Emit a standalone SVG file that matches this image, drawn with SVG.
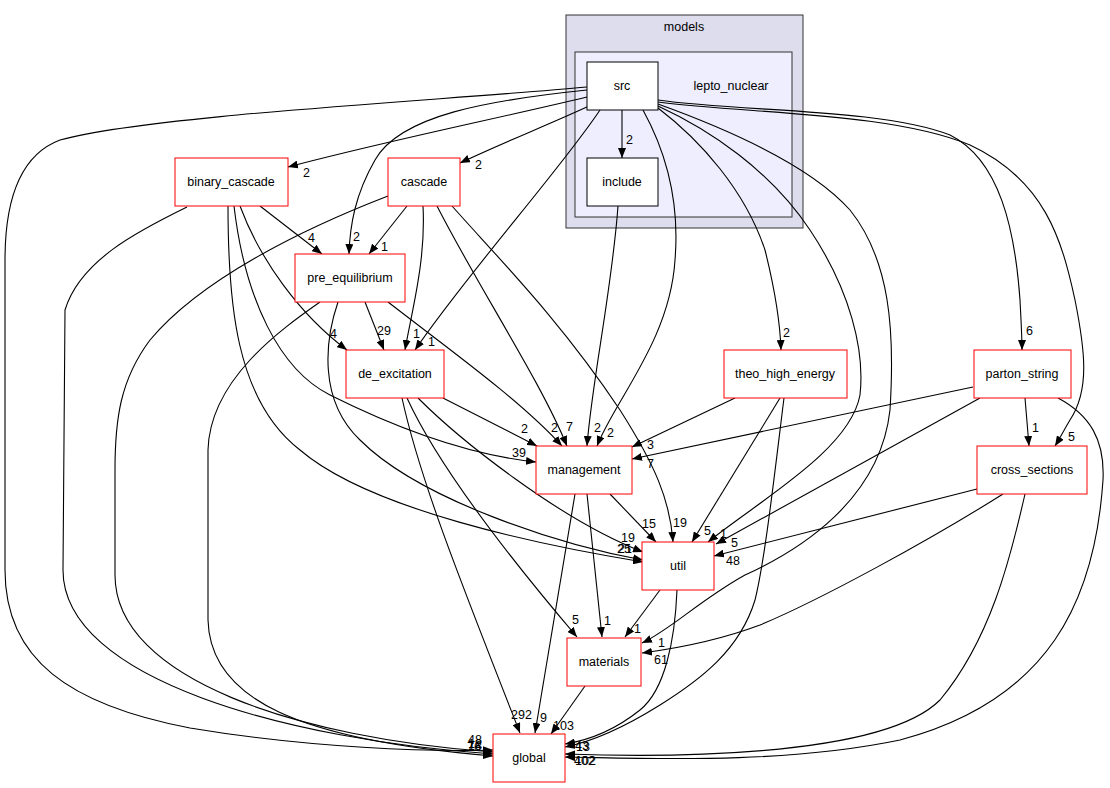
<svg xmlns="http://www.w3.org/2000/svg" width="1110" height="788" viewBox="0 0 1110 788">
<style>
text{font-family:"Liberation Sans",Arial,sans-serif;font-size:12.5px;fill:#000}
.n{text-anchor:middle}
.r{fill:#fff;stroke:#ff0000;stroke-width:1}
.b{fill:#fff;stroke:#000;stroke-width:1}
.e{fill:none;stroke:#000;stroke-width:1.1;marker-end:url(#a)}
</style>
<defs>
<marker id="a" markerWidth="10" markerHeight="8" refX="10" refY="4" orient="auto" markerUnits="userSpaceOnUse"><path d="M0,0 L10,4 L0,8 z" fill="#000"/></marker>
</defs>
<rect width="1110" height="788" fill="#fff"/>
<g id="cluster_models">
<rect x="566" y="15" width="237" height="213" fill="#ddddee" stroke="#333"/>
<text class="n" x="684" y="31">models</text>
</g>
<g id="cluster_lepto_nuclear">
<rect x="575" y="52" width="217" height="165" fill="#eeeeff" stroke="#333"/>
<text class="n" x="731" y="90">lepto_nuclear</text>
</g>
<g id="edges">
<path class="e" d="M622,110 L622,158"/>
<text x="626" y="144">2</text>
<path class="e" d="M587,97 C500,118 390,140 288,167"/>
<text x="303" y="177">2</text>
<path class="e" d="M589,106 C550,124 500,144 460,163"/>
<text x="475" y="169">2</text>
<path class="e" d="M587,90 C490,100 400,115 375,160 C355,195 350,225 349,254"/>
<text x="353" y="241">2</text>
<path class="e" d="M587,87 C450,100 150,115 60,140 C20,155 5,200 5,260 L5,570 C5,660 70,705 190,728 C310,748 430,752 493,750"/>
<path class="e" d="M600,110 C560,170 470,270 415,350"/>
<text x="428" y="346">1</text>
<path class="e" d="M643,110 C665,150 680,200 675,260 C670,340 615,400 597,446"/>
<text x="607" y="437">2</text>
<path class="e" d="M658,108 C700,140 745,190 765,250 C775,290 780,320 781,350"/>
<text x="783" y="337">2</text>
<path class="e" d="M658,100 C740,112 880,108 950,135 C1000,160 1015,230 1020,300 C1021,320 1022,335 1022,350"/>
<text x="1026" y="335">6</text>
<path class="e" d="M658,102 C750,114 890,112 970,145 C1045,180 1062,240 1075,300 C1085,350 1090,390 1070,420 C1064,430 1060,438 1055,446"/>
<text x="1068" y="441">5</text>
<path class="e" d="M658,106 C710,130 770,170 810,230 C850,290 865,350 860,395 C850,450 760,500 708,542"/>
<text x="720" y="538">1</text>
<path class="e" d="M658,104 C730,130 810,165 850,210 C890,260 895,330 890,410 C880,500 800,550 745,575 C700,600 670,630 642,643"/>
<text x="658" y="647">1</text>
<path class="e" d="M618,206 C612,290 592,380 587,446"/>
<text x="594" y="432">2</text>
<path class="e" d="M260,206 L322,254"/>
<text x="308" y="242">4</text>
<path class="e" d="M240,206 C260,260 300,315 347,350"/>
<text x="330" y="338">4</text>
<path class="e" d="M234,206 C245,300 280,370 330,395 C400,430 470,455 536,462"/>
<text x="512" y="457">39</text>
<path class="e" d="M228,206 C228,300 235,400 300,450 C370,510 540,545 643,562"/>
<text x="617" y="553">25</text>
<path class="e" d="M187,207 C140,230 80,260 65,310 L63,570 C63,680 290,740 493,754"/>
<path class="e" d="M407,206 L369,254"/>
<text x="381" y="251">1</text>
<path class="e" d="M423,206 C426,260 412,310 405,350"/>
<text x="413" y="338">1</text>
<path class="e" d="M437,206 C480,290 540,380 567,446"/>
<text x="566" y="431">7</text>
<path class="e" d="M452,206 C500,260 560,320 620,410 C655,465 670,500 673,542"/>
<text x="673" y="527">19</text>
<path class="e" d="M388,196 C300,230 200,280 150,340 C120,380 115,420 115,470 L115,575 C115,680 300,738 493,752"/>
<path class="e" d="M365,302 L384,350"/>
<text x="377" y="335">29</text>
<path class="e" d="M388,302 C450,350 520,400 562,446"/>
<text x="551" y="432">2</text>
<path class="e" d="M338,302 C325,340 318,400 360,440 C420,500 560,545 643,560"/>
<text x="618" y="553">21</text>
<path class="e" d="M320,302 C280,330 210,380 208,450 L208,620 C210,700 300,740 493,756"/>
<path class="e" d="M443,398 L537,446"/>
<text x="521" y="433">2</text>
<path class="e" d="M418,398 C460,440 560,520 643,552"/>
<text x="621" y="542">19</text>
<path class="e" d="M407,398 C440,470 520,570 577,637"/>
<text x="572" y="624">5</text>
<path class="e" d="M402,398 C420,480 460,580 520,733"/>
<text x="511" y="719">292</text>
<path class="e" d="M735,398 L632,447"/>
<text x="647" y="449">3</text>
<path class="e" d="M780,398 L692,542"/>
<text x="704" y="535">5</text>
<path class="e" d="M784,398 C775,470 765,560 755,600 C740,650 700,680 660,705 C620,730 590,742 565,747"/>
<path class="e" d="M973,387 L632,459"/>
<text x="647" y="468">7</text>
<path class="e" d="M980,398 L716,544"/>
<text x="731" y="547">5</text>
<path class="e" d="M1025,398 L1029,446"/>
<text x="1032" y="432">1</text>
<path class="e" d="M1058,398 C1090,415 1105,440 1103,480 C1095,600 1050,700 900,740 C780,765 640,758 565,757"/>
<path class="e" d="M977,489 L714,556"/>
<text x="726" y="565">48</text>
<path class="e" d="M1003,494 C930,540 820,600 760,625 C720,640 680,648 642,653"/>
<text x="654" y="664">61</text>
<path class="e" d="M1025,494 C1010,560 990,640 940,700 C880,760 650,757 565,754"/>
<path class="e" d="M610,494 L656,542"/>
<text x="642" y="528">15</text>
<path class="e" d="M587,494 L602,637"/>
<text x="604" y="625">1</text>
<path class="e" d="M575,494 L535,733"/>
<text x="540" y="722">9</text>
<path class="e" d="M660,590 L625,637"/>
<text x="634" y="633">1</text>
<path class="e" d="M677,590 C675,640 665,690 640,710 C615,730 590,740 565,744"/>
<path class="e" d="M585,686 L551,734"/>
<text x="553" y="730">103</text>
<text x="468" y="744">48</text>
<text x="468" y="748">12</text>
<text x="467" y="751">76</text>
<text x="468" y="750">18</text>
<text x="575" y="750">43</text>
<text x="576" y="751">13</text>
<text x="574" y="765">402</text>
<text x="575" y="765">102</text>
</g>
<g id="node_src"><rect class="b" x="587" y="62" width="71" height="48"/><text class="n" x="622" y="90">src</text></g>
<g id="node_include"><rect class="b" x="587" y="158" width="71" height="48"/><text class="n" x="622" y="186">include</text></g>
<g id="node_binary_cascade"><rect class="r" x="175" y="158" width="113" height="48"/><text class="n" x="231" y="186">binary_cascade</text></g>
<g id="node_cascade"><rect class="r" x="388" y="158" width="72" height="48"/><text class="n" x="424" y="186">cascade</text></g>
<g id="node_pre_equilibrium"><rect class="r" x="295" y="254" width="110" height="48"/><text class="n" x="350" y="282">pre_equilibrium</text></g>
<g id="node_de_excitation"><rect class="r" x="346" y="350" width="98" height="48"/><text class="n" x="395" y="378">de_excitation</text></g>
<g id="node_theo_high_energy"><rect class="r" x="724" y="350" width="123" height="48"/><text class="n" x="785" y="378">theo_high_energy</text></g>
<g id="node_parton_string"><rect class="r" x="974" y="350" width="97" height="48"/><text class="n" x="1022" y="378">parton_string</text></g>
<g id="node_management"><rect class="r" x="536" y="446" width="96" height="48"/><text class="n" x="584" y="474">management</text></g>
<g id="node_cross_sections"><rect class="r" x="977" y="446" width="110" height="48"/><text class="n" x="1032" y="474">cross_sections</text></g>
<g id="node_util"><rect class="r" x="642" y="542" width="72" height="48"/><text class="n" x="678" y="570">util</text></g>
<g id="node_materials"><rect class="r" x="567" y="638" width="74" height="48"/><text class="n" x="604" y="666">materials</text></g>
<g id="node_global"><rect class="r" x="493" y="734" width="72" height="48"/><text class="n" x="529" y="762">global</text></g>
</svg>
